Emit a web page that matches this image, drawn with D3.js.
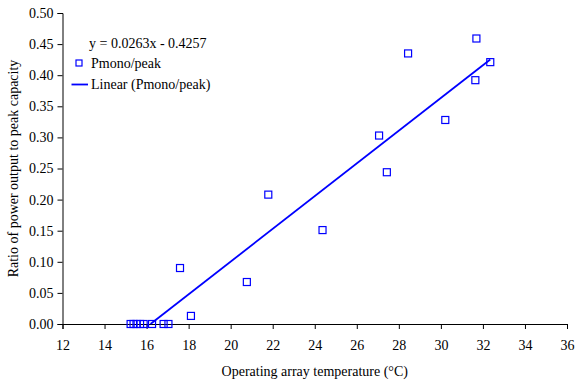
<!DOCTYPE html>
<html>
<head>
<meta charset="utf-8">
<script src="https://cdn.jsdelivr.net/npm/d3@7"></script>
<style>
  html, body { margin: 0; padding: 0; background: #fff; }
  svg { display: block; }
  text { font-family: "Liberation Serif", "Times New Roman", serif; fill: #000; }
</style>
</head>
<body>
<svg id="chart" width="575" height="383"></svg>
<script>
// Operating array temperature (°C) and ratio of power output to peak capacity
const temperature = [15.24, 15.38, 15.52, 15.69, 15.86, 16.26, 16.81, 17.04,
                     17.59, 18.11, 20.77, 21.79, 24.37, 27.06, 27.43, 28.44,
                     30.21, 31.64, 31.69, 32.35];
const ratio = [0, 0, 0, 0, 0, 0, 0, 0,
               0.090, 0.013, 0.0675, 0.208, 0.151, 0.303, 0.244, 0.435,
               0.328, 0.392, 0.459, 0.421];

// Linear trendline y = slope * x + intercept
const slope = 0.0263;
const intercept = -0.4257;
const equationLabel = "y = 0.0263x - 0.4257";
const seriesName = "Pmono/peak";
const trendName = "Linear (Pmono/peak)";

const xTicks = [12, 14, 16, 18, 20, 22, 24, 26, 28, 30, 32, 34, 36];
const yTicks = [0, 0.05, 0.10, 0.15, 0.20, 0.25, 0.30, 0.35, 0.40, 0.45, 0.50];

const blue = "#0000ff";
const svg = d3.select("#chart");
const margin = { left: 62.5, right: 8, top: 13, bottom: 59 };
const W = 575, H = 383;

const x = d3.scaleLinear().domain([12, 36]).range([margin.left, W - margin.right]);
const y = d3.scaleLinear().domain([0, 0.5]).range([H - margin.bottom, margin.top]);

// Axes
const xAxis = d3.axisBottom(x).tickValues(xTicks).tickSize(5).tickFormat(d3.format("d"));
const yAxis = d3.axisLeft(y).tickValues(yTicks).tickSize(5).tickFormat(d3.format(".2f"));

const gx = svg.append("g").attr("transform", `translate(0,${y(0)})`).call(xAxis);
const gy = svg.append("g").attr("transform", `translate(${x(12)},0)`).call(yAxis);

[gx, gy].forEach(g => {
  g.select(".domain").attr("stroke", "#000").attr("stroke-width", 1);
  g.selectAll(".tick line").attr("stroke", "#000").attr("stroke-width", 1);
  g.selectAll(".tick text").style("font-family", "Liberation Serif").style("font-size", "14px").attr("fill", "#000");
});
gx.selectAll(".tick text").attr("dy", "1.25em");
gy.selectAll(".tick text").attr("x", -9);

// Axis titles
svg.append("text")
  .attr("x", x(24))
  .attr("y", H - 7)
  .attr("text-anchor", "middle")
  .style("font-size", "14px")
  .text("Operating array temperature (°C)");

svg.append("text")
  .attr("transform", `translate(18,${(y(0) + y(0.5)) / 2}) rotate(-90)`)
  .attr("text-anchor", "middle")
  .style("font-size", "14px")
  .text("Ratio of power output to peak capacity");

// Trendline: from where it crosses zero to the last data point
const xStart = -intercept / slope;
const xEnd = d3.max(temperature);
svg.append("line")
  .attr("x1", x(xStart)).attr("y1", y(slope * xStart + intercept))
  .attr("x2", x(xEnd)).attr("y2", y(slope * xEnd + intercept))
  .attr("stroke", blue).attr("stroke-width", 1.8);

// Data markers (open squares)
const s = 7;
svg.append("g").selectAll("rect")
  .data(temperature.map((t, i) => [t, ratio[i]]))
  .join("rect")
  .attr("x", d => x(d[0]) - s / 2)
  .attr("y", d => y(d[1]) - s / 2)
  .attr("width", s).attr("height", s)
  .attr("fill", "none")
  .attr("stroke", blue)
  .attr("stroke-width", 1.2);

// Legend
const lg = svg.append("g");
lg.append("text").attr("x", 89).attr("y", 47.5).style("font-size", "14px").text(equationLabel);
lg.append("rect").attr("x", 76).attr("y", 60).attr("width", 6).attr("height", 6)
  .attr("fill", "none").attr("stroke", blue).attr("stroke-width", 1.2);
lg.append("text").attr("x", 91).attr("y", 68).style("font-size", "14px").text(seriesName);
lg.append("line").attr("x1", 71.5).attr("x2", 88).attr("y1", 84.5).attr("y2", 84.5)
  .attr("stroke", blue).attr("stroke-width", 1.8);
lg.append("text").attr("x", 91).attr("y", 89).style("font-size", "14px").text(trendName);
</script>
</body>
</html>
